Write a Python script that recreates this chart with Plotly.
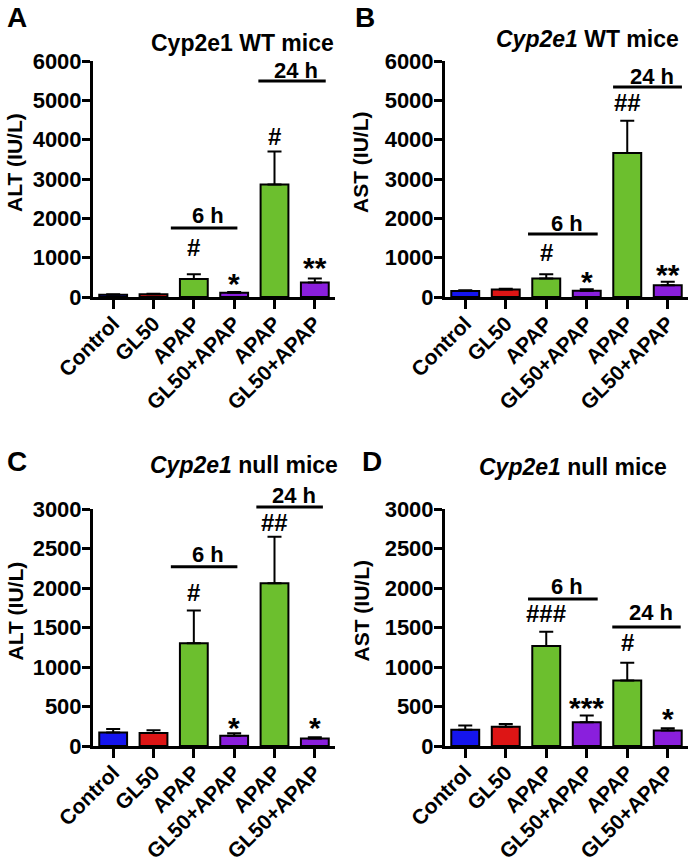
import plotly.graph_objects as go

W, H = 690, 867

categories = ["Control", "GL50", "APAP", "GL50+APAP", "APAP", "GL50+APAP"]
bar_colors = ["#1515ee", "#dd1515", "#6cbf2e", "#8a1fdd", "#6cbf2e", "#8a1fdd"]

# values (IU/L)
alt_wt = [60, 70, 460, 110, 2860, 370]
alt_wt_err = [10, 10, 120, 20, 840, 100]
ast_wt = [150, 190, 470, 160, 3660, 300]
ast_wt_err = [20, 20, 110, 40, 820, 90]
alt_null = [170, 165, 1300, 130, 2060, 95]
alt_null_err = [45, 35, 415, 30, 590, 15]
ast_null = [205, 245, 1265, 300, 830, 195]
ast_null_err = [55, 35, 180, 85, 225, 30]

panels = [
    dict(key="A", vals=alt_wt, err=alt_wt_err, ymax=6000, dtick=1000,
         ytitle="ALT (IU/L)", title="Cyp2e1 WT mice",
         xd=[93, 335], yd=[61, 297], title_xy=(242, 43), label_xy=(17, 17), ytitle_x=15,
         marks=[(2, 1271, "#"), (3, 508, "*"), (5, 890, "**"), (4, 4068, "#")],
         groups=[(1.43, 3.08, 1754, 2060, "6 h"), (3.6, 5.27, 5492, 5746, "24 h")]),
    dict(key="B", vals=ast_wt, err=ast_wt_err, ymax=6000, dtick=1000,
         ytitle="AST (IU/L)", title="<i>Cyp2e1</i> WT mice",
         xd=[445, 688], yd=[61, 297], title_xy=(587, 39), label_xy=(365, 17), ytitle_x=361,
         marks=[(2, 1119, "#"), (3, 559, "*"), (5, 737, "**"), (4, 4933, "##")],
         groups=[(1.55, 3.27, 1602, 1881, "6 h"), (3.65, 5.35, 5340, 5594, "24 h")]),
    dict(key="C", vals=alt_null, err=alt_null_err, ymax=3000, dtick=500,
         ytitle="ALT (IU/L)", title="<i>Cyp2e1</i> null mice",
         xd=[93, 335], yd=[509, 746], title_xy=(244, 465), label_xy=(17, 462), ytitle_x=15,
         marks=[(2, 1949, "#"), (3, 304, "*"), (5, 304, "*"), (4, 2823, "##")],
         groups=[(1.43, 3.08, 2270, 2418, "6 h"), (3.55, 5.2, 3025, 3165, "24 h")]),
    dict(key="D", vals=ast_null, err=ast_null_err, ymax=3000, dtick=500,
         ytitle="AST (IU/L)", title="<i>Cyp2e1</i> null mice",
         xd=[445, 688], yd=[509, 746], title_xy=(573, 467), label_xy=(372, 462), ytitle_x=361,
         marks=[(2, 1671, "###"), (3, 557, "***"), (4, 1304, "#"), (5, 430, "*")],
         groups=[(1.55, 3.27, 1861, 2025, "6 h"), (3.63, 5.32, 1506, 1684, "24 h")]),
]

FONT = "Liberation Sans, Arial, sans-serif"
fig = go.Figure()
annotations = []
shapes = []

for i, p in enumerate(panels):
    n = "" if i == 0 else str(i + 1)
    xdom = [p["xd"][0] / W, p["xd"][1] / W]
    ydom = [1 - p["yd"][1] / H, 1 - p["yd"][0] / H]
    x = list(range(len(categories)))
    fig.add_trace(go.Bar(
        x=x, y=p["vals"], xaxis="x" + n, yaxis="y" + n,
        marker=dict(color=bar_colors, line=dict(color="black", width=2)),
        width=0.69,
        error_y=dict(type="data", array=p["err"], arrayminus=[0] * 6, symmetric=False,
                     color="black", thickness=2, width=7),
        showlegend=False,
    ))
    xfont = dict(family=FONT, size=21, color="black", weight="bold")
    yfont = dict(family=FONT, size=22, color="black", weight="bold")
    fig.update_layout(**{
        "xaxis" + n: dict(domain=xdom, anchor="y" + n, range=[-0.5, 5.5], automargin=False,
                          tickmode="array", tickvals=x, ticktext=categories,
                          tickangle=-45, showline=True, linewidth=3, linecolor="black",
                          ticks="outside", ticklen=9, tickwidth=3, tickcolor="black",
                          ticklabelstandoff=-6,
                          showgrid=False, zeroline=False, tickfont=xfont, fixedrange=True),
        "yaxis" + n: dict(domain=ydom, anchor="x" + n, range=[0, p["ymax"]], automargin=False,
                          tickmode="linear", tick0=0, dtick=p["dtick"],
                          showline=True, linewidth=3, linecolor="black",
                          ticks="outside", ticklen=8, tickwidth=3, tickcolor="black",
                          ticklabelstandoff=-4,
                          showgrid=False, zeroline=False, tickfont=yfont, fixedrange=True),
    })

    def yp(v, ydom=ydom, ymax=p["ymax"]):
        return ydom[0] + (ydom[1] - ydom[0]) * v / ymax

    annotations.append(dict(xref="paper", yref="paper", x=p["title_xy"][0] / W,
                            y=1 - p["title_xy"][1] / H, text="<b>" + p["title"] + "</b>",
                            showarrow=False, font=dict(family=FONT, size=23, color="black"),
                            xanchor="center", yanchor="middle"))
    annotations.append(dict(xref="paper", yref="paper", x=p["label_xy"][0] / W,
                            y=1 - p["label_xy"][1] / H, text="<b>" + p["key"] + "</b>",
                            showarrow=False, font=dict(family=FONT, size=28, color="black"),
                            xanchor="center", yanchor="middle"))
    annotations.append(dict(xref="paper", yref="paper", x=p["ytitle_x"] / W,
                            y=(ydom[0] + ydom[1]) / 2 + 16 / H, text="<b>" + p["ytitle"] + "</b>",
                            textangle=-90, showarrow=False,
                            font=dict(family=FONT, size=21, color="black"),
                            xanchor="center", yanchor="middle"))
    for (cx, v, t) in p["marks"]:
        big = "*" in t
        annotations.append(dict(xref="x" + n, yref="paper", x=cx, y=yp(v) - (6 / H if big else 0),
                                text="<b>" + t + "</b>", showarrow=False,
                                font=dict(family=FONT, size=30 if big else 24, color="black"),
                                xanchor="center", yanchor="middle"))
    for (x0, x1, vl, vt, t) in p["groups"]:
        shapes.append(dict(type="line", xref="x" + n, yref="paper", x0=x0, x1=x1,
                           y0=yp(vl), y1=yp(vl), line=dict(color="black", width=3)))
        annotations.append(dict(xref="x" + n, yref="paper", x=(x0 + x1) / 2 + 0.1, y=yp(vt),
                                text="<b>" + t + "</b>", showarrow=False,
                                font=dict(family=FONT, size=22, color="black"),
                                xanchor="center", yanchor="middle"))

fig.update_layout(width=W, height=H, autosize=False, template="none",
                  margin=dict(l=0, r=0, t=0, b=0, autoexpand=False),
                  paper_bgcolor="white", plot_bgcolor="white",
                  bargap=0.3, annotations=annotations, shapes=shapes,
                  font=dict(family=FONT, color="black"))

fig.write_html("out.html", config={"displayModeBar": False},
               post_script="document.body.style.margin='0';document.body.style.overflow='hidden';")
